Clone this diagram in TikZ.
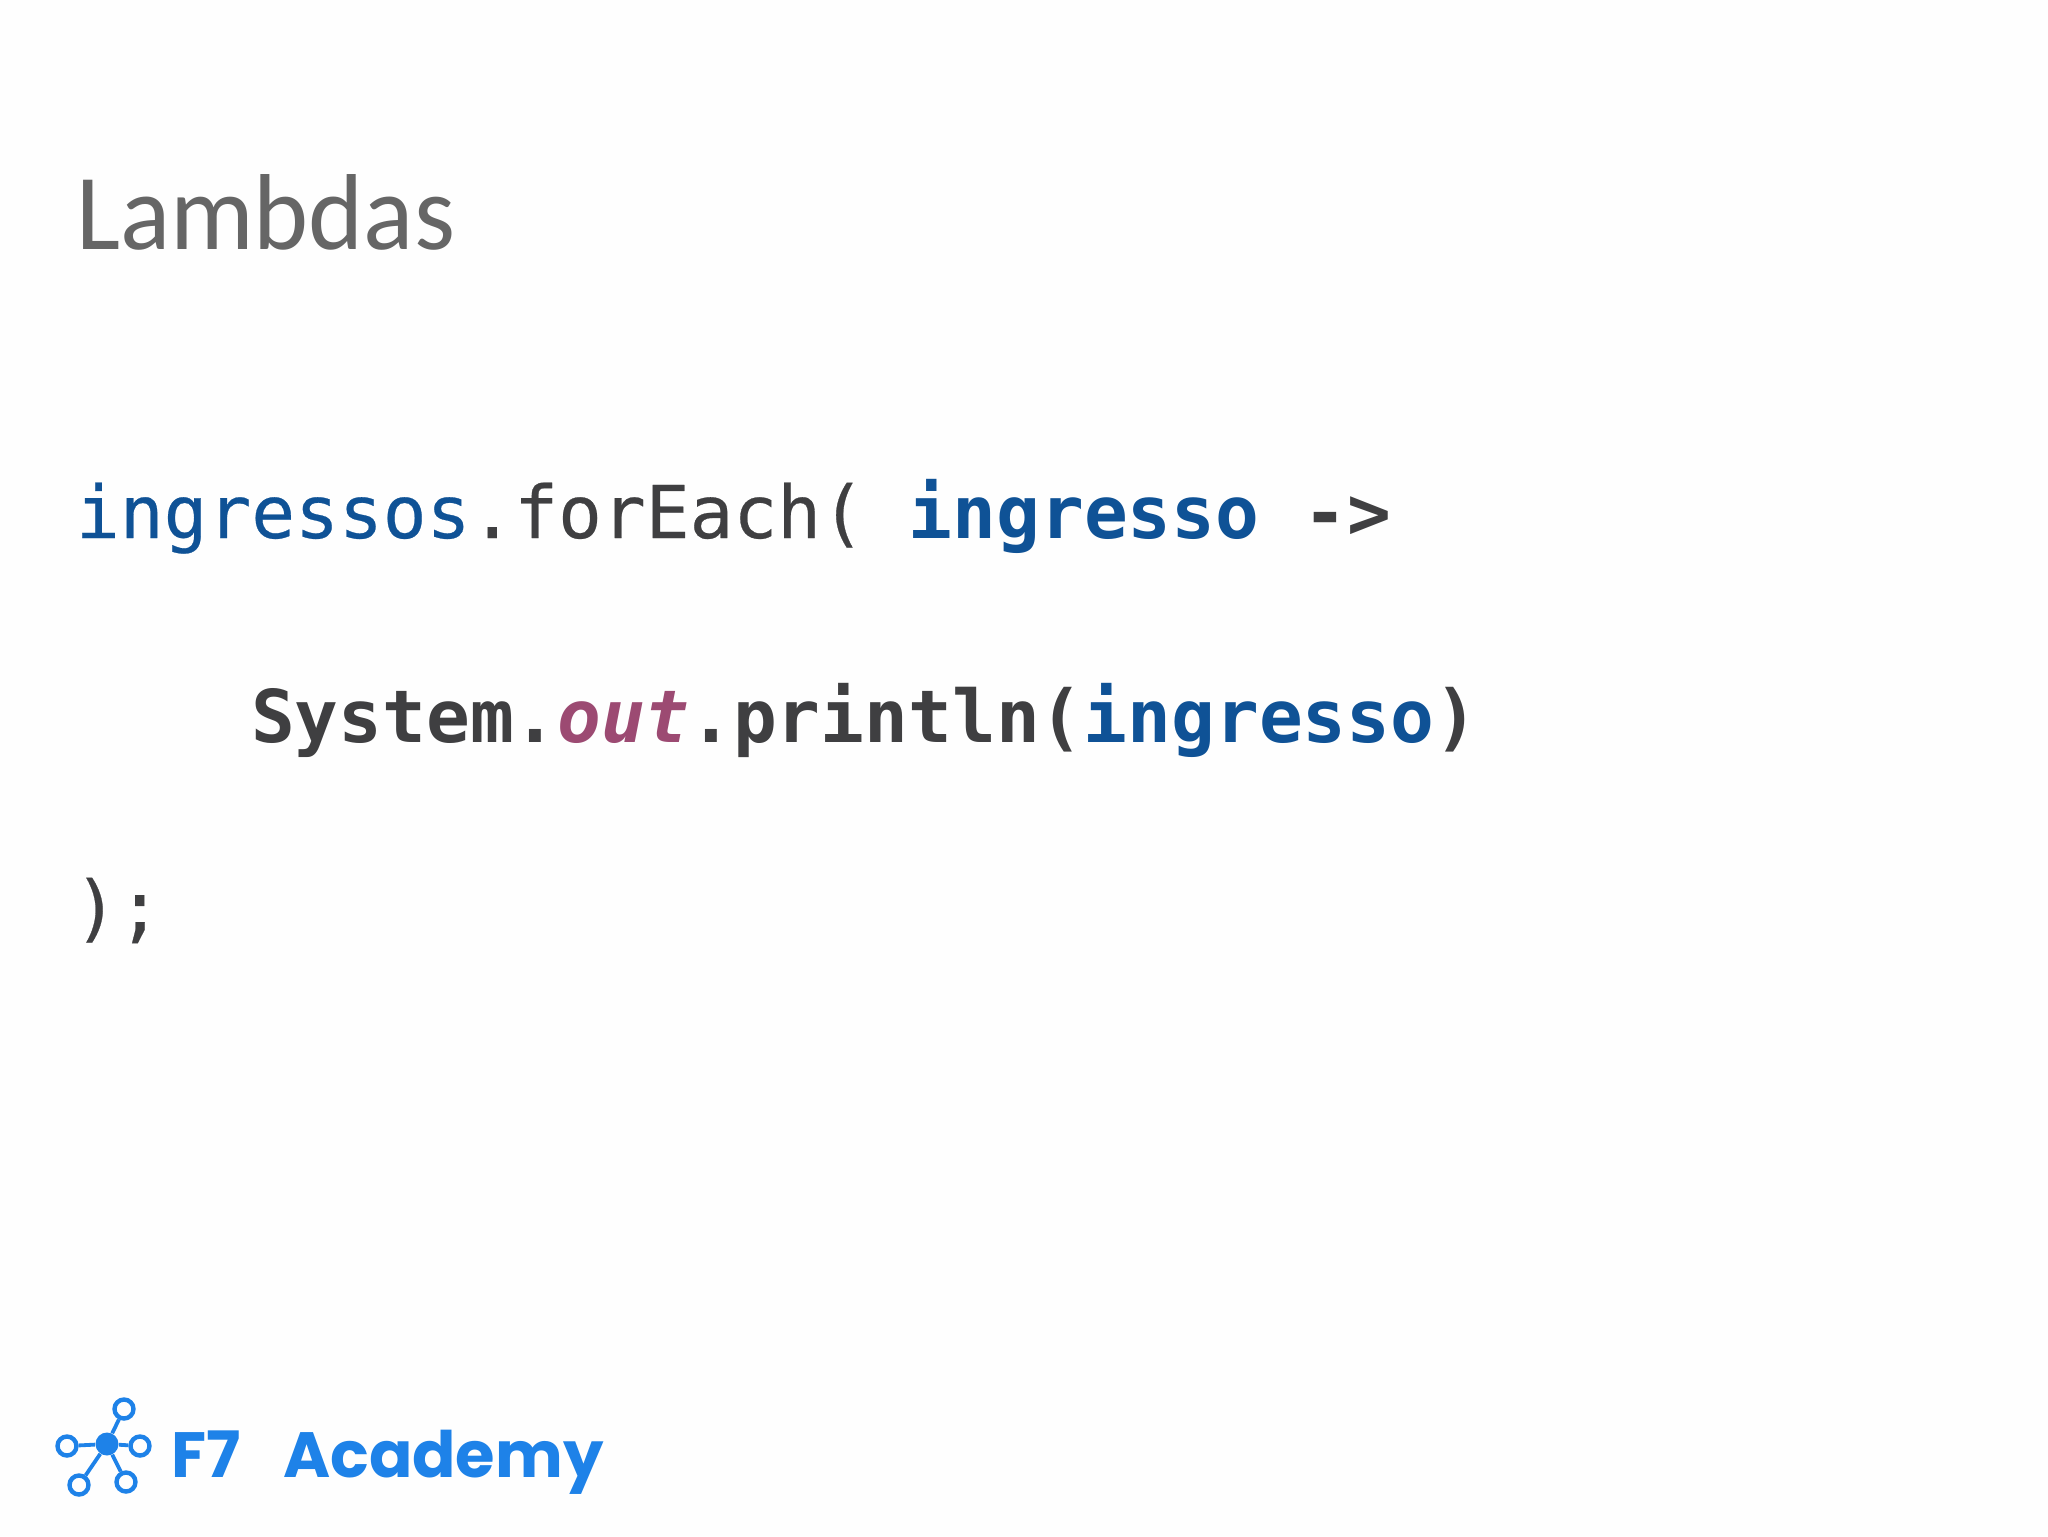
\documentclass[tikz,border=0pt]{standalone}
\usepackage{fontspec}
\setmainfont{Carlito}
\newfontfamily\titlefont[FakeStretch=0.97]{Carlito}
\newfontfamily\codefont[UprightFeatures={FakeBold=0.35}]{DejaVu Sans Mono}
\newfontfamily\logofont{Poppins}
\definecolor{pagebg}{HTML}{FEFEFE}
\definecolor{titlegray}{HTML}{666666}
\definecolor{codeblue}{HTML}{0F5296}
\definecolor{codedark}{HTML}{3F3F41}
\definecolor{codepurple}{HTML}{9C4A72}
\definecolor{logoblue}{HTML}{1E82E8}
\tikzset{
  textline/.style={anchor=base west,inner sep=0pt,outer sep=0pt},
  codeline/.style={textline,text=codedark,font=\codefont\fontsize{36.4}{40}\selectfont},
  ring/.style={circle,draw=logoblue,line width=2.2pt,fill=pagebg,inner sep=0pt,minimum size=9.5pt},
  hub/.style={circle,fill=logoblue,inner sep=0pt,minimum size=11.5pt},
  spoke/.style={draw=logoblue,line width=1.9pt}
}
\begin{document}
\begin{tikzpicture}[x=0.5pt,y=-0.5pt]
\path[use as bounding box,fill=pagebg] (0,0) rectangle (2048,1536);
\node[textline,text=titlegray,font=\titlefont\fontsize{54}{60}\selectfont] (title) at (76,249) {Lambdas};
\node[codeline] (line1) at (76,538) {\textcolor{codeblue}{ingressos}.forEach( \textcolor{codeblue}{\bfseries ingresso} {\bfseries->}};
\node[codeline] (line2) at (251,742) {\bfseries System.\textcolor{codepurple}{\itshape out}.println(\textcolor{codeblue}{ingresso})};
\node[codeline] (line3) at (74,933) {);};
\node[hub] (hubnode) at (107,1444) {};
\node[ring] (rtop) at (124,1409) {};
\node[ring] (rleft) at (67,1446) {};
\node[ring] (rright) at (140,1446) {};
\node[ring] (rbl) at (79,1485) {};
\node[ring] (rbr) at (126,1482) {};
\foreach \r in {rtop,rleft,rright,rbl,rbr} \draw[spoke] (hubnode) -- (\r);
\node[textline,text=logoblue,font=\logofont\bfseries\fontsize{32}{40}\selectfont] (logo) at (171,1477) {F7\hspace{21.5pt}Academy};
\end{tikzpicture}
\end{document}
